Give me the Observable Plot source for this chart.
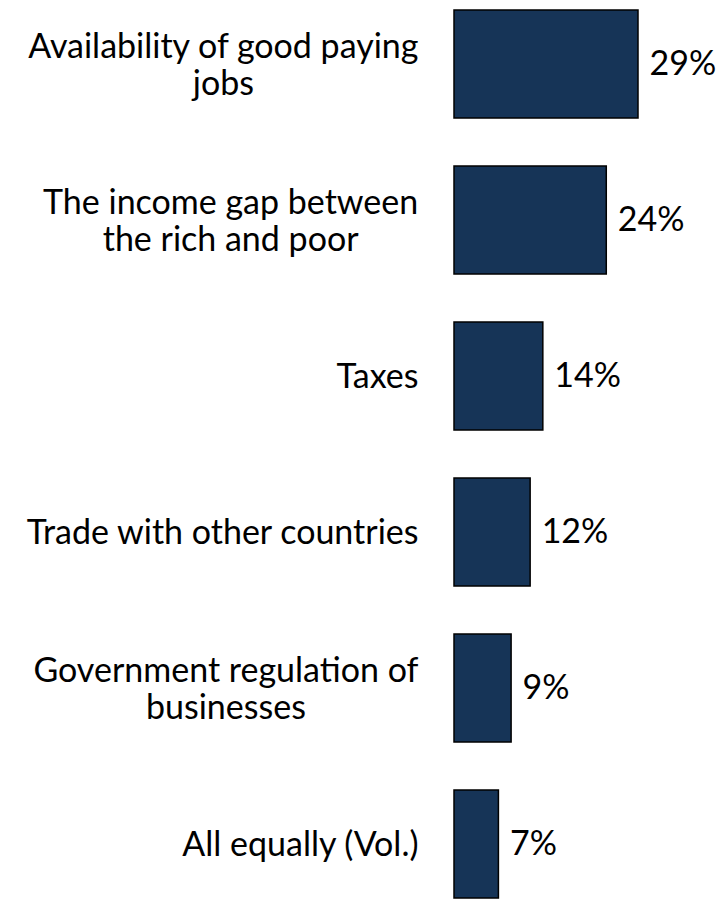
<!DOCTYPE html>
<html>
<head>
<meta charset="utf-8">
<script src="https://cdn.jsdelivr.net/npm/d3@7"></script>
<script src="https://cdn.jsdelivr.net/npm/@observablehq/plot@0.6"></script>
<style>
  html, body { margin: 0; padding: 0; background: #fff; }
  #chart svg { display: block; }
</style>
</head>
<body>
<div id="chart"></div>
<script>
const categories = [
  "Availability of good paying jobs",
  "The income gap between the rich and poor",
  "Taxes",
  "Trade with other countries",
  "Government regulation of businesses",
  "All equally (Vol.)"
];
const tickLabels = [
  "Availability of good paying\njobs",
  "The income gap between\nthe rich and poor",
  "Taxes",
  "Trade with other countries",
  "Government regulation of\nbusinesses",
  "All equally (Vol.)"
];
const values = [29, 24, 14, 12, 9, 7];
const valueLabels = ["29%", "24%", "14%", "12%", "9%", "7%"];

const data = categories.map((c, i) => ({cat: c, label: tickLabels[i], value: values[i], vlabel: valueLabels[i]}));

const FONT = "Lato, 'Open Sans', sans-serif";
const FS = 34;

const plot = Plot.plot({
  width: 722,
  height: 900,
  marginLeft: 454,
  marginRight: 84,
  marginTop: 7.5,
  marginBottom: 0,
  style: {fontFamily: FONT, background: "#fff"},
  x: {domain: [0, 29], axis: null},
  y: {domain: categories, paddingInner: 0.31, paddingOuter: 0, axis: null},
  marks: [
    Plot.barX(data, {y: "cat", x: "value", fill: "#163457", stroke: "#000", strokeWidth: 1.5}),
    Plot.text(data, {y: "cat", x: "value", text: "vlabel", textAnchor: "start", dx: 11, fontSize: FS, fill: "#000"}),
    Plot.text(data, {y: "cat", x: 0, text: "label", textAnchor: "end", dx: -36, fontSize: FS, lineHeight: 1.09, lineAnchor: "middle", fill: "#000", className: "catlabel"})
  ]
});
document.getElementById("chart").appendChild(plot);

// center-align multi-line labels while keeping the block right-aligned
plot.querySelectorAll("g.catlabel text").forEach(t => {
  const w = t.getBBox().width;
  t.setAttribute("text-anchor", "middle");
  const tr = t.getAttribute("transform") || "";
  t.setAttribute("transform", tr + ` translate(${-w / 2},0)`);
});
</script>
</body>
</html>
